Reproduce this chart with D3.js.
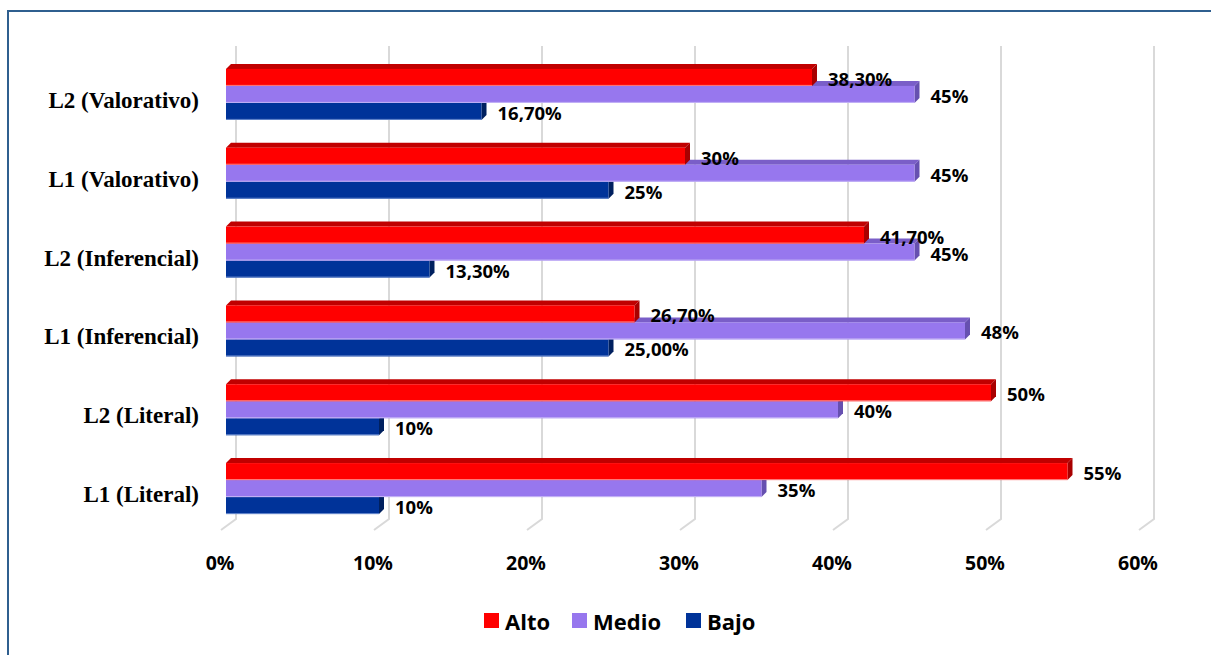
<!DOCTYPE html>
<html>
<head>
<meta charset="utf-8">
<script src="https://cdn.jsdelivr.net/npm/d3@7"></script>
<style>
  body { margin: 0; background: #fff; }
  svg { display: block; }
</style>
</head>
<body>
<svg width="1211" height="655"></svg>
<script>
var categories = ["L2 (Valorativo)", "L1 (Valorativo)", "L2 (Inferencial)",
                  "L1 (Inferencial)", "L2 (Literal)", "L1 (Literal)"];
var series = ["Alto", "Medio", "Bajo"];
var alto  = [38.3, 30, 41.7, 26.7, 50, 55];
var medio = [45, 45, 45, 48.3, 40, 35];
var bajo  = [16.7, 25, 13.3, 25, 10, 10];
var altoLabels  = ["38,30%", "30%", "41,70%", "26,70%", "50%", "55%"];
var medioLabels = ["45%", "45%", "45%", "48%", "40%", "35%"];
var bajoLabels  = ["16,70%", "25%", "13,30%", "25,00%", "10%", "10%"];
var ticks = [0, 10, 20, 30, 40, 50, 60];

var colors = {
    "Alto":  {face: "#ff0000", top: "#c00000", side: "#a80000", edge: "#ff8080"},
    "Medio": {face: "#9777ee", top: "#7a5ec8", side: "#6650b0", edge: "#c4b4f6"},
    "Bajo":  {face: "#003399", top: "#002a80", side: "#00205f", edge: "#6688cc"}
};

var svg = d3.select("svg");

// chart frame
svg.append("rect")
    .attr("x", 8).attr("y", 11)
    .attr("width", 1400).attr("height", 800)
    .attr("fill", "none")
    .attr("stroke", "#2f5f8f")
    .attr("stroke-width", 2);

var xBack = d3.scaleLinear().domain([0, 60]).range([236, 1154]);
var barShift = -10, depth = 5;
function xFront(v) { return xBack(v) + barShift; }

var y = d3.scaleBand().domain(categories).range([55, 528]);
var y1 = d3.scaleBand().domain(series).range([13.9, 64.9]);

// gridlines with floor
svg.append("g").selectAll("path")
    .data(ticks)
    .enter().append("path")
    .attr("d", function (t) {
        var xb = xBack(t);
        return "M" + xb + ",46 L" + xb + ",519 L" + (xb - 15) + ",530";
    })
    .attr("fill", "none")
    .attr("stroke", "#d9d9d9")
    .attr("stroke-width", 2);

// tick labels
svg.append("g").selectAll("text")
    .data(ticks)
    .enter().append("text")
    .attr("x", function (t) { return xBack(t) - 16; })
    .attr("y", 562)
    .attr("text-anchor", "middle")
    .attr("dominant-baseline", "central")
    .style("font-family", "'Open Sans', sans-serif")
    .style("font-weight", "bold")
    .style("font-size", "19.5px")
    .text(function (t) { return t + "%"; });

// category labels
svg.append("g").selectAll("text")
    .data(categories)
    .enter().append("text")
    .attr("x", 199)
    .attr("y", function (c) { return y(c) + y.bandwidth() / 2 + 6; })
    .attr("text-anchor", "end")
    .attr("dominant-baseline", "central")
    .style("font-family", "'Liberation Serif', 'Times New Roman', serif")
    .style("font-weight", "bold")
    .style("font-size", "23px")
    .text(function (c) { return c; });

// build bar records
var bars = [];
categories.forEach(function (c, i) {
    bars.push({cat: c, s: "Bajo", v: bajo[i], label: bajoLabels[i]});
    bars.push({cat: c, s: "Medio", v: medio[i], label: medioLabels[i]});
    bars.push({cat: c, s: "Alto", v: alto[i], label: altoLabels[i]});
});

var barG = svg.append("g");
bars.forEach(function (d) {
    var x0 = xFront(0), x1 = xFront(d.v);
    var top = y(d.cat) + y1(d.s), h = y1.bandwidth();
    var col = colors[d.s];
    var g = barG.append("g");
    g.append("path")
        .attr("d", "M" + x0 + "," + top + " L" + (x0 + depth) + "," + (top - depth) +
            " L" + (x1 + depth) + "," + (top - depth) + " L" + x1 + "," + top + "Z")
        .attr("fill", col.top);
    g.append("path")
        .attr("d", "M" + x1 + "," + top + " L" + (x1 + depth) + "," + (top - depth) +
            " L" + (x1 + depth) + "," + (top + h - depth) + " L" + x1 + "," + (top + h) + "Z")
        .attr("fill", col.side);
    g.append("rect")
        .attr("x", x0).attr("y", top)
        .attr("width", x1 - x0).attr("height", h)
        .attr("fill", col.face);
    g.append("line")
        .attr("x1", x0).attr("x2", x1)
        .attr("y1", top + h - 0.5).attr("y2", top + h - 0.5)
        .attr("stroke", col.edge)
        .attr("stroke-width", 1);
});

// data labels
svg.append("g").selectAll("text")
    .data(bars)
    .enter().append("text")
    .attr("x", function (d) { return xFront(d.v) + 16; })
    .attr("y", function (d) { return y(d.cat) + y1(d.s) + y1.bandwidth() / 2 + 1; })
    .attr("dominant-baseline", "central")
    .style("font-family", "'Open Sans', sans-serif")
    .style("font-weight", "bold")
    .style("font-size", "18.5px")
    .text(function (d) { return d.label; });

// legend
var legendX = [484, 572, 686];
var legend = svg.append("g").selectAll("g")
    .data(series)
    .enter().append("g")
    .attr("transform", function (d, i) { return "translate(" + legendX[i] + ",613)"; });
legend.append("rect")
    .attr("width", 15).attr("height", 15)
    .attr("fill", function (d) { return colors[d].face; });
legend.append("text")
    .attr("x", 21).attr("y", 8)
    .attr("dominant-baseline", "central")
    .style("font-family", "'Open Sans', sans-serif")
    .style("font-weight", "bold")
    .style("font-size", "22px")
    .text(function (d) { return d; });
</script>
</body>
</html>
